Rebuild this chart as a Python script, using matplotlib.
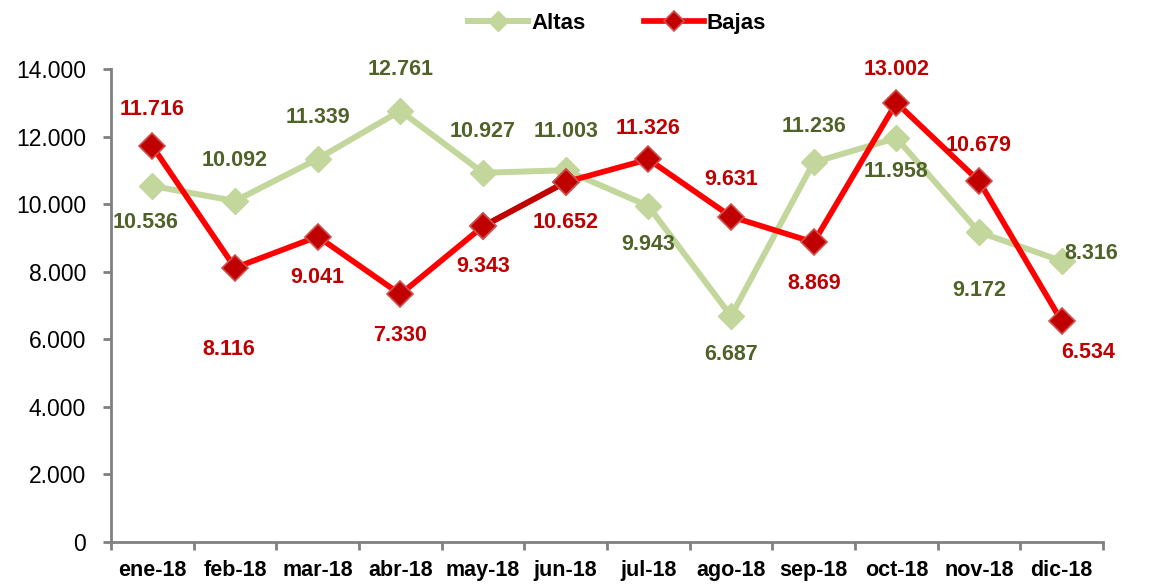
import matplotlib
matplotlib.use("Agg")
import matplotlib.pyplot as plt
from matplotlib.ticker import FixedLocator, FuncFormatter, MultipleLocator

months = ["ene-18", "feb-18", "mar-18", "abr-18", "may-18", "jun-18",
          "jul-18", "ago-18", "sep-18", "oct-18", "nov-18", "dic-18"]
altas = [10536, 10092, 11339, 12761, 10927, 11003, 9943, 6687, 11236, 11958, 9172, 8316]
bajas = [11716, 8116, 9041, 7330, 9343, 10652, 11326, 9631, 8869, 13002, 10679, 6534]

# label offsets in pixels (dx, dy), dy positive = up
altas_off = [(-7, -36), (0, 41), (0, 41), (0, 41), (0, 41), (0, 39),
             (0, -38), (0, -38), (0, 36), (0, -34), (0, -58), (30, 8)]
bajas_off = [(0, 37), (-6, -82), (0, -41), (0, -41), (0, -40), (0, -40),
             (0, 31), (0, 37), (0, -41), (0, 33), (0, 36), (26, -31)]

fam = ["Liberation Sans", "DejaVu Sans"]
plt.rcParams["font.family"] = fam

GREEN = "#C3D69B"
GREEN_TXT = "#4F6228"
RED = "#FF0000"
DRED = "#C00000"
GRAY = "#808080"

fig = plt.figure(figsize=(11.56, 5.87), dpi=100)
ax = fig.add_axes([0.0960, 0.0767, 0.8582, 0.8058])

x = list(range(len(months)))
ax.plot(x, altas, color=GREEN, lw=4.3, marker="D", ms=13, mfc=GREEN, mec=GREEN,
        label="Altas", zorder=3, solid_joinstyle="miter")
ax.plot(x, bajas, color=RED, lw=4.1, marker="D", ms=13, mfc=DRED, mec="#D0504D",
        mew=1.2, label="Bajas", zorder=4, solid_joinstyle="miter")
# darker segment may-jun
ax.plot(x[4:6], bajas[4:6], color=DRED, lw=4.1, zorder=4.5)
ax.plot(x[4:6], bajas[4:6], ls="none", marker="D", ms=13, mfc=DRED, mec="#D0504D",
        mew=1.2, zorder=5)

fmt = lambda v: f"{int(round(v)):,}".replace(",", ".")

for xi, v, (dx, dy) in zip(x, altas, altas_off):
    ax.annotate(fmt(v), (xi, v), xytext=(dx, dy), textcoords="offset pixels",
                ha="center", va="center", fontsize=15.5, fontweight="bold",
                color=GREEN_TXT, zorder=6)
for xi, v, (dx, dy) in zip(x, bajas, bajas_off):
    ax.annotate(fmt(v), (xi, v), xytext=(dx, dy), textcoords="offset pixels",
                ha="center", va="center", fontsize=15.5, fontweight="bold",
                color=DRED, zorder=6)

ax.set_xlim(-0.5, len(months) - 0.5)
ax.set_ylim(0, 14000)
ax.yaxis.set_major_locator(MultipleLocator(2000))
ax.yaxis.set_major_formatter(FuncFormatter(lambda v, p: fmt(v)))
ax.set_xticks(x)
ax.set_xticklabels(months, fontsize=15.5, fontweight="bold")
ax.xaxis.set_minor_locator(FixedLocator([i - 0.5 for i in range(len(months) + 1)]))
ax.tick_params(axis="x", which="major", length=0, pad=13)
ax.tick_params(axis="x", which="minor", length=6, width=2, color=GRAY, direction="out")
ax.tick_params(axis="y", length=6, width=2, color=GRAY, direction="out", labelsize=16.5, pad=12)

for s in ["top", "right"]:
    ax.spines[s].set_visible(False)
for s in ["left", "bottom"]:
    ax.spines[s].set_color(GRAY)
    ax.spines[s].set_linewidth(2)

leg = fig.legend(loc="upper center", bbox_to_anchor=(0.534, 1.012), ncol=2, frameon=False,
                 prop={"family": fam, "weight": "bold", "size": 16},
                 handlelength=2.7, columnspacing=2.6, handletextpad=0.15, markerscale=0.8)

fig.savefig("out.png", dpi=100)
